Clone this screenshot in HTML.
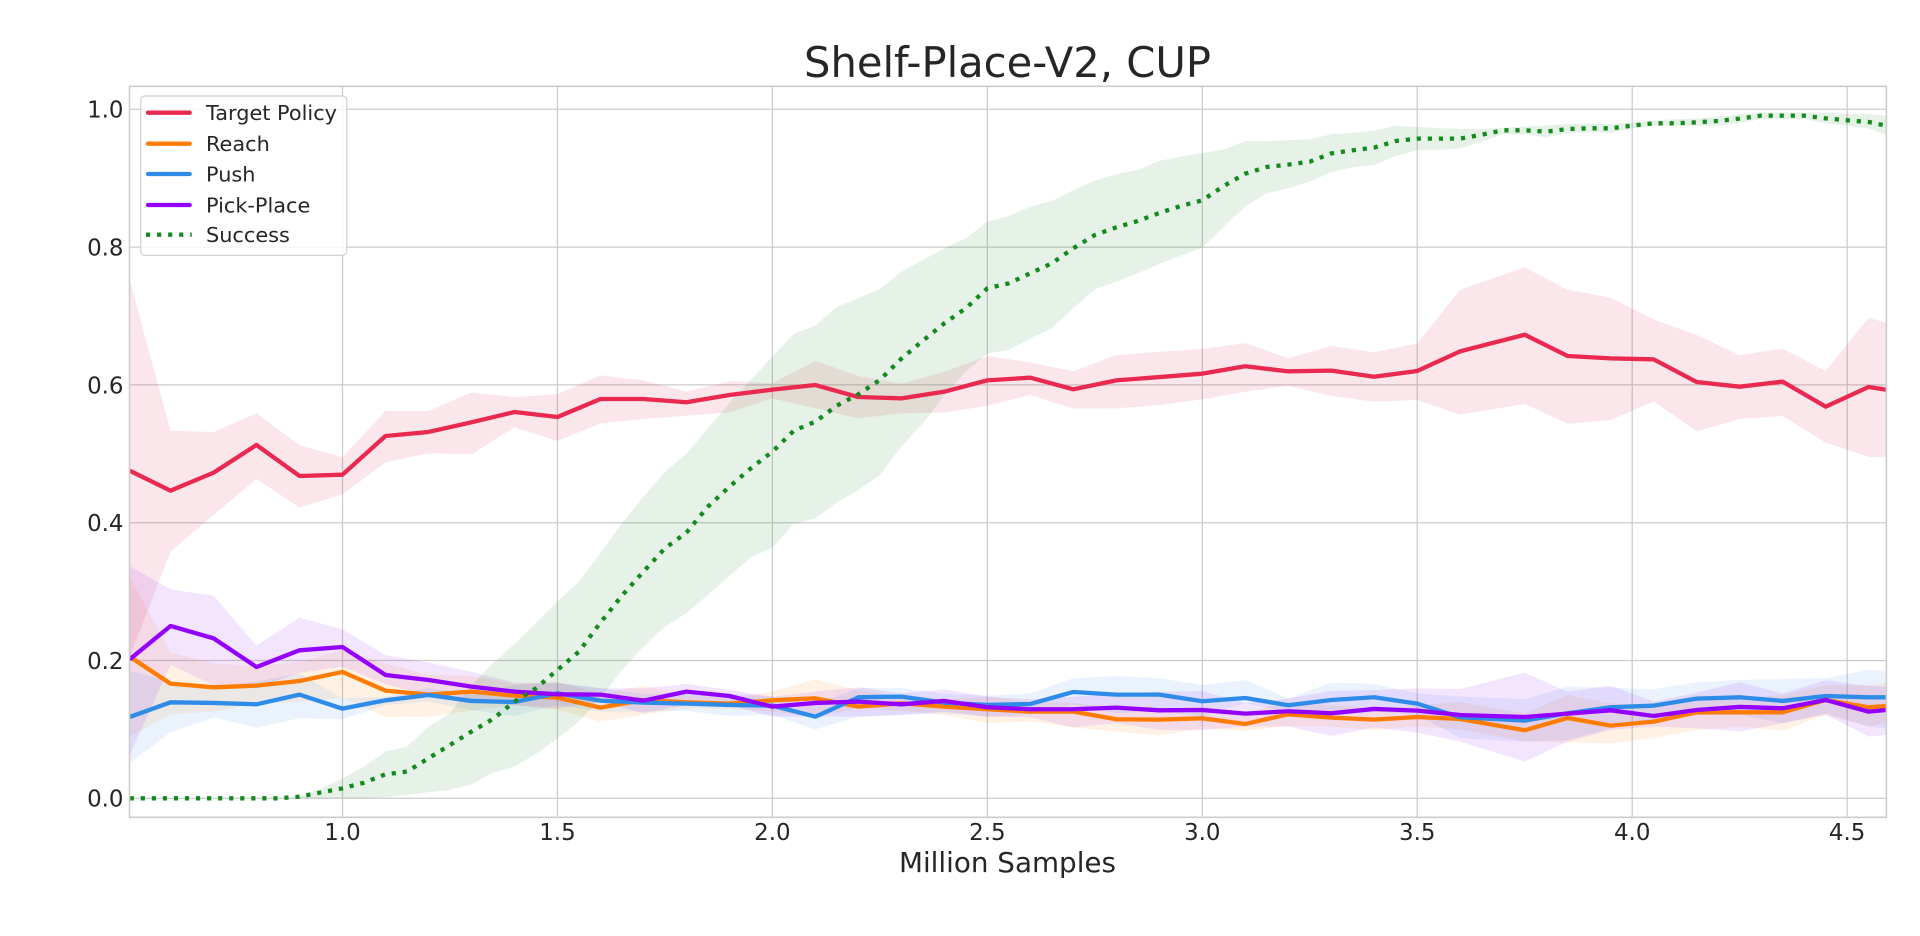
<!DOCTYPE html>
<html lang="en">
<head>
<meta charset="utf-8">
<title>Shelf-Place-V2, CUP</title>
<style>
html,body{margin:0;padding:0;background:#fff;width:1920px;height:936px;overflow:hidden}
svg{display:block}
text{font-family:"DejaVu Sans","Liberation Sans",sans-serif;fill:#262626}
</style>
</head>
<body>
<svg id="chart" xmlns="http://www.w3.org/2000/svg" width="1920" height="936" viewBox="0 0 1920 936">
  <defs><clipPath id="plot-clip"><rect x="129.5" y="86.3" width="1756.9" height="731"/></clipPath></defs>
  <rect x="0" y="0" width="1920" height="936" fill="#ffffff"/>
  <g id="grid"></g>
  <g id="bands" clip-path="url(#plot-clip)"></g>
  <g id="lines" clip-path="url(#plot-clip)"></g>
  <rect x="129.5" y="86.3" width="1756.9" height="731" fill="none" stroke="#cccccc" stroke-width="1.6"/>
  <g id="ticks"></g>
  <text x="1007.5" y="77" font-size="41.67" text-anchor="middle">Shelf-Place-V2, CUP</text>
  <text x="1007.5" y="872" font-size="27.8" text-anchor="middle">Million Samples</text>
  <g id="legend">
    <rect x="140.7" y="96" width="206" height="159.3" rx="4" ry="4" fill="#ffffff" fill-opacity="0.8" stroke="#cccccc" stroke-opacity="0.8" stroke-width="1.4"/>
  </g>
</svg>
<script>
const sampleX = [0.505,0.6,0.7,0.8,0.9,1.0,1.1,1.2,1.3,1.4,1.5,1.6,1.7,1.8,1.9,2.0,2.1,2.2,2.3,2.4,2.5,2.6,2.7,2.8,2.9,3.0,3.1,3.2,3.3,3.4,3.5,3.6,3.75,3.85,3.95,4.05,4.15,4.25,4.35,4.45,4.55,4.59];
const successX = [0.505,0.55,0.6,0.65,0.7,0.75,0.8,0.85,0.9,0.95,1.0,1.05,1.1,1.15,1.2,1.25,1.3,1.35,1.4,1.45,1.5,1.55,1.6,1.65,1.7,1.75,1.8,1.85,1.9,1.95,2.0,2.05,2.1,2.15,2.2,2.25,2.3,2.35,2.4,2.45,2.5,2.55,2.6,2.65,2.7,2.75,2.8,2.85,2.9,2.95,3.0,3.05,3.1,3.15,3.2,3.25,3.3,3.35,3.4,3.45,3.5,3.55,3.6,3.65,3.7,3.75,3.8,3.85,3.9,3.95,4.0,4.05,4.1,4.15,4.2,4.25,4.3,4.35,4.4,4.45,4.5,4.55,4.59];

const targetMean = [.4755,.4465,.4726,.5128,.4678,.4697,.5258,.5317,.5457,.5607,.5534,.5795,.5795,.5748,.5853,.5931,.5998,.5824,.5805,.5902,.6066,.6105,.5936,.6066,.6114,.6163,.627,.6197,.6207,.6119,.6202,.6487,.6729,.6419,.6385,.6371,.6042,.5974,.6047,.5684,.597,.5931];
const targetUpper = [.7523,.5335,.5316,.5588,.5128,.4949,.5621,.5621,.5892,.5824,.5868,.6139,.6066,.5902,.6057,.6023,.6351,.6129,.6018,.6191,.6419,.6327,.6197,.6434,.6482,.6521,.6608,.6386,.6565,.6473,.6603,.7382,.7706,.7382,.7266,.6951,.6724,.6434,.6526,.6206,.6975,.6903];
const targetLower = [.205,.358,.411,.4634,.4218,.441,.4876,.5007,.4992,.5384,.5186,.5442,.5505,.5553,.5602,.5805,.566,.5515,.5587,.5597,.5698,.5853,.5655,.5659,.5708,.579,.59,.5988,.5839,.5756,.5781,.5568,.5723,.5437,.549,.5761,.5326,.5505,.5549,.5161,.4954,.4958];

const reachMean = [.2056,.1664,.1611,.1635,.1703,.1834,.1563,.1505,.1548,.149,.1461,.1316,.1427,.1393,.1374,.1422,.1451,.133,.1379,.133,.1292,.1258,.1258,.1147,.1142,.1161,.1079,.1219,.1171,.1142,.118,.1151,.0987,.1166,.1055,.1113,.1248,.1248,.1248,.1427,.1321,.134];
const reachUpper = [.3217,.2114,.196,.191,.1984,.2153,.196,.179,.178,.166,.169,.152,.163,.15,.145,.155,.1727,.157,.148,.143,.1476,.14,.139,.13,.13,.133,.125,.139,.135,.13,.135,.14,.1234,.15,.138,.135,.15,.145,.15,.164,.1645,.167];
const reachLower = [.0895,.1219,.1257,.138,.14,.1455,.118,.1184,.1272,.1355,.1282,.1113,.121,.1306,.13,.1258,.1185,.1306,.127,.121,.1089,.1113,.103,.0968,.0914,.1016,.0977,.105,.104,.099,.104,.1,.0822,.0808,.0798,.0871,.0992,.104,.0982,.121,.104,.11];

const pushMean = [.118,.1393,.1384,.1364,.1505,.1301,.1422,.15,.1413,.1398,.1524,.1417,.1389,.1374,.1355,.1345,.1185,.1466,.1476,.1389,.1355,.1369,.1543,.1505,.1505,.1408,.1456,.135,.1427,.1466,.1374,.1176,.1127,.1234,.1321,.1345,.1447,.1466,.1413,.1485,.1466,.1466];
const pushUpper = [.185,.1693,.162,.1693,.1814,.1451,.1476,.16,.15,.1645,.168,.16,.152,.152,.152,.1476,.1355,.16,.16,.152,.149,.1524,.1742,.1775,.1742,.1645,.1717,.1451,.1679,.166,.1524,.1476,.1437,.1621,.1606,.1582,.1684,.1717,.1732,.1742,.1867,.1838];
const pushLower = [.0512,.0958,.1171,.1026,.1161,.1147,.1355,.1403,.1282,.1195,.1355,.1258,.1258,.1268,.1195,.121,.1001,.1185,.121,.1234,.1185,.1219,.1355,.1234,.1272,.1185,.1379,.1258,.1185,.1258,.121,.0871,.0822,.0847,.1016,.1113,.121,.121,.1089,.1234,.104,.1016];

const pickMean = [.2017,.2501,.2322,.1906,.2148,.2196,.179,.1717,.1621,.1548,.1509,.1505,.1417,.1548,.1485,.133,.1384,.1403,.1364,.1413,.1321,.1292,.1292,.1316,.1277,.1282,.1229,.1263,.1234,.1297,.1272,.1209,.118,.1229,.1277,.1195,.1282,.1326,.1306,.1427,.1258,.1282];
const pickUpper = [.3372,.3033,.2941,.2216,.2622,.2453,.208,.1969,.1838,.1679,.1669,.1597,.1597,.166,.1572,.1476,.1548,.1611,.1524,.1582,.1476,.1437,.1476,.1509,.1548,.1558,.1379,.1451,.1558,.1572,.1597,.1587,.1824,.1548,.1635,.1403,.1534,.1684,.1524,.1713,.163,.1621];
const pickLower = [.063,.1935,.1644,.16,.182,.191,.1655,.15,.14,.135,.1306,.14,.1234,.1355,.135,.1185,.1185,.1185,.121,.1258,.1185,.1176,.103,.1089,.0992,.0992,.104,.104,.0905,.1026,.0953,.0822,.0532,.0822,.0992,.104,.1016,.0968,.1089,.121,.0895,.0919];

const successMean = [0,0,0,0,0,0,0,0,.0024,.0085,.0145,.0227,.0348,.0387,.0581,.0774,.0968,.1151,.1403,.1597,.1863,.2129,.255,.2941,.329,.3628,.3856,.4233,.4523,.479,.5031,.5336,.5467,.5699,.5864,.6072,.6381,.6642,.6894,.7112,.7402,.7474,.762,.7765,.7983,.8176,.8287,.8379,.8495,.8597,.8679,.8887,.9066,.9163,.9197,.924,.9361,.9405,.9444,.954,.9574,.9574,.9574,.9632,.9695,.9695,.9676,.9715,.9724,.9724,.9763,.9797,.9797,.9811,.9831,.9865,.9908,.9908,.9908,.9869,.984,.9816,.9763];
const successUpper = [0,0,0,0,0,0,0,0,.0024,.014,.029,.046,.0677,.075,.104,.1234,.1645,.1959,.224,.254,.2854,.3145,.3556,.3991,.4378,.474,.5,.537,.5733,.6072,.641,.6739,.686,.7136,.7257,.7392,.7644,.7813,.7983,.8128,.8369,.8452,.8587,.8669,.8829,.8965,.9057,.912,.9251,.9313,.9366,.9419,.954,.954,.955,.9565,.9637,.9661,.969,.9758,.9744,.9729,.9715,.9715,.9734,.9748,.9763,.9787,.9797,.9787,.9806,.9835,.9855,.9869,.9894,.9928,.9952,.9952,.9952,.9952,.9932,.9932,.9908];
const successLower = [0,0,0,0,0,0,0,0,0,0,0,0,.0015,.0048,.0087,.0121,.0203,.0373,.046,.0643,.0871,.1113,.1451,.1863,.2201,.2491,.2685,.2951,.3227,.3498,.3638,.3982,.4064,.4291,.4475,.4693,.5104,.5443,.5854,.6193,.6459,.6507,.6676,.6821,.7112,.7388,.7499,.762,.7755,.7876,.7992,.8297,.8587,.8781,.8853,.895,.9086,.9158,.9192,.9323,.9405,.941,.9434,.9531,.9642,.9632,.9594,.9652,.9661,.9656,.9724,.9763,.9763,.9758,.9763,.9797,.986,.986,.986,.9797,.9763,.9724,.9627];

const xTickValues = [1.0,1.5,2.0,2.5,3.0,3.5,4.0,4.5];
const yTickValues = [0.0,0.2,0.4,0.6,0.8,1.0];
const seriesNames = ["Target Policy","Reach","Push","Pick-Place","Success"];

const NS = "http://www.w3.org/2000/svg";
const PLOT = {left:129.5,right:1886.4,top:86.3,bottom:817.3};
function xScale(v){ return 342.5 + 429.9*(v-1); }
function yScale(v){ return 798.3 - 689*v; }
function mk(tag, parent, attrs){
  const el = document.createElementNS(NS, tag);
  for (const k in attrs) el.setAttribute(k, attrs[k]);
  parent.appendChild(el);
  return el;
}
function linePath(xs, ys){
  return xs.map((x,i)=>(i?"L":"M")+xScale(x).toFixed(2)+" "+yScale(ys[i]).toFixed(2)).join("");
}
function bandPath(xs, up, low){
  let d = linePath(xs, up);
  for (let i=xs.length-1;i>=0;i--) d += "L"+xScale(xs[i]).toFixed(2)+" "+yScale(low[i]).toFixed(2);
  return d+"Z";
}

const grid = document.getElementById("grid");
const ticks = document.getElementById("ticks");
xTickValues.forEach(v=>{
  const ln = mk("line", grid, {x1:xScale(v),x2:xScale(v),y1:PLOT.top,y2:PLOT.bottom,stroke:"#cccccc","stroke-width":1.25});
  
  
  const t = mk("text", ticks, {x:xScale(v),y:840,"font-size":22.92,"text-anchor":"middle"});
  t.textContent = v.toFixed(1);
  
  
});
yTickValues.forEach(v=>{
  const ln = mk("line", grid, {x1:PLOT.left,x2:PLOT.right,y1:yScale(v),y2:yScale(v),stroke:"#cccccc","stroke-width":1.25});
  
  
  const t = mk("text", ticks, {x:123.5,y:yScale(v)+8.4,"font-size":22.92,"text-anchor":"end"});
  t.textContent = v.toFixed(1);
  
  
});

const COLORS = ["#e9294f","#ff7c00","#2e8ce8","#9400ff","#138a1e"];
const BAND_COLORS = ["#dc143c","#ff7c00","#2e8ce8","#9400ff","#0a7d12"];
const bandsG = document.getElementById("bands");
const linesG = document.getElementById("lines");
const DOT = "4.17 6.88";

const b0 = mk("path", bandsG, {d:bandPath(sampleX,targetUpper,targetLower),fill:BAND_COLORS[0],"fill-opacity":0.1});


const b1 = mk("path", bandsG, {d:bandPath(sampleX,reachUpper,reachLower),fill:BAND_COLORS[1],"fill-opacity":0.1});


const b2 = mk("path", bandsG, {d:bandPath(sampleX,pushUpper,pushLower),fill:BAND_COLORS[2],"fill-opacity":0.1});


const b3 = mk("path", bandsG, {d:bandPath(sampleX,pickUpper,pickLower),fill:BAND_COLORS[3],"fill-opacity":0.1});


const b4 = mk("path", bandsG, {d:bandPath(successX,successUpper,successLower),fill:BAND_COLORS[4],"fill-opacity":0.1});



const base = {fill:"none","stroke-width":4.3,"stroke-linejoin":"round"};
const l0 = mk("path", linesG, Object.assign({d:linePath(sampleX,targetMean),stroke:COLORS[0]},base));


const l1 = mk("path", linesG, Object.assign({d:linePath(sampleX,reachMean),stroke:COLORS[1]},base));


const l2 = mk("path", linesG, Object.assign({d:linePath(sampleX,pushMean),stroke:COLORS[2]},base));


const l3 = mk("path", linesG, Object.assign({d:linePath(sampleX,pickMean),stroke:COLORS[3]},base));


const l4 = mk("path", linesG, Object.assign({d:linePath(successX,successMean),stroke:COLORS[4],"stroke-dasharray":DOT},base));



const legend = document.getElementById("legend");
const rowY = [112.7,143.7,174,205,234.7];
seriesNames.forEach((name,i)=>{
  const s = mk("line", legend, {x1:i===4?146:148,x2:i===4?191.7:189.7,y1:rowY[i],y2:rowY[i],stroke:COLORS[i],"stroke-width":4.3,"stroke-linecap":i===4?"butt":"round"});
  if (i===4) s.setAttribute("stroke-dasharray", DOT);
  
  
  const t = mk("text", legend, {x:206,y:rowY[i]+7.5,"font-size":20.83});
  t.textContent = name;
  
  
});
</script>
</body>
</html>
